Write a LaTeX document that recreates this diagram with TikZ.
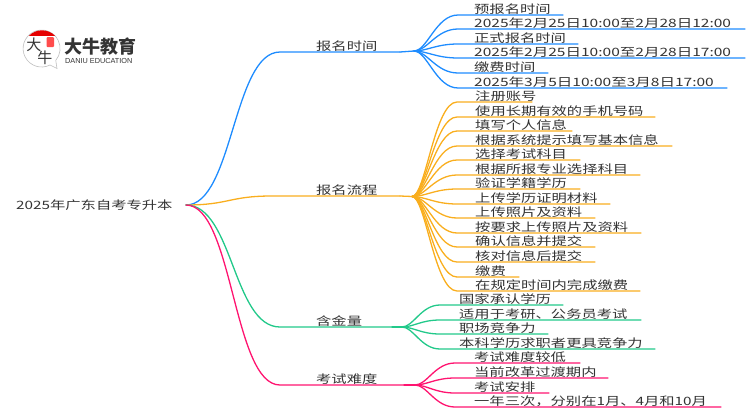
\documentclass[tikz,border=0pt]{standalone}
\usepackage{fontspec}
\usetikzlibrary{calc}
\setmainfont[FakeStretch=1.33]{Noto Sans CJK SC}
\newfontfamily\plainfont{Noto Sans CJK SC}
\newfontfamily\widefont[FakeStretch=1.35]{Noto Sans CJK SC}
\newfontfamily\latinlogo{Liberation Sans}
\definecolor{cblue}{HTML}{1E8CFF}
\definecolor{corange}{HTML}{F9AE1E}
\definecolor{cgreen}{HTML}{22C98A}
\definecolor{cpink}{HTML}{FF1470}
\definecolor{ctext}{HTML}{333333}
\tikzset{
  label text/.style={anchor=base west,inner sep=0pt,text=ctext,font=\fontsize{11.5}{14}\selectfont},
  link/.style={line width=1.3pt,line cap=round},
}
\newcommand{\bendk}{0.5}
% \branch{parent}{name}{flat x}{y}{text x}{end x}{colour}{text}
\newcommand{\branch}[8]{%
  \node[label text] (#2) at (#5,#4-1.5) {#8};
  \coordinate (#2-s) at (#3,#4);
  \coordinate (#2-e) at (#6,#4);
  \draw[link,#7] (#1) .. controls ($(#1)!\bendk!(#1 -| #2-s)$) and ($(#2-s)!0.5!(#2-s -| #1)$) .. (#2-s) -- (#2-e);
}
\begin{document}
\begin{tikzpicture}[x=1pt,y=-1pt]
\useasboundingbox (0,0) rectangle (750,410);
% logo
\fill[white,draw=black!25,line width=0.6pt] (50,65) arc[start angle=63,end angle=400,radius=18.5] -- (57,68.5) -- cycle;
\begin{scope}
\clip (42,48.5) circle (18.2);
\fill[red!90!black] (22,30) rectangle (62,35.5);
\end{scope}
\fill[red!70!white,rounded corners=1pt] (46.5,37) rectangle (54,47);
\node[inner sep=0pt,font=\plainfont\fontsize{15}{15}\selectfont,text=ctext] (logoa) at (34,45) {大};
\node[inner sep=0pt,font=\plainfont\fontsize{15}{15}\selectfont,text=ctext] (logob) at (45,58) {牛};
\node[inner sep=0pt,anchor=west,font=\plainfont\bfseries\fontsize{18}{18}\selectfont,text=ctext] (logoc) at (64.5,47) {大牛教育};
\node[inner sep=0pt,anchor=west,font=\latinlogo\fontsize{7.3}{7}\selectfont,text=ctext] (logod) at (65,60.5) {DANIU EDUCATION};
% root
\node[label text] (root) at (16,209.5) {2025年广东自考专升本};
\coordinate (rootr) at (186,205);
% trunks
\coordinate (hubA) at (414,51);
\coordinate (hubB) at (412,196.5);
\coordinate (hubC) at (402,327);
\coordinate (hubD) at (415,385);
\branch{rootr}{a}{280}{52}{316}{400}{cblue}{报名时间}
\draw[link,cblue] (a-e) -- (hubA);
\branch{rootr}{b}{272}{196}{316}{400}{corange}{报名流程}
\draw[link,corange] (b-e) -- (hubB);
\branch{rootr}{c}{280}{327}{316}{392}{cgreen}{含金量}
\draw[link,cgreen] (c-e) -- (hubC);
\branch{rootr}{d}{280}{385}{316}{404}{cpink}{考试难度}
\draw[link,cpink] (d-e) -- (hubD);
\renewcommand{\bendk}{0.3}
% blue leaves
\branch{hubA}{a1}{458}{15}{474}{563}{cblue}{预报名时间}
\branch{hubA}{a2}{458}{29}{474}{745}{cblue}{\widefont 2025年2月25日10:00至2月28日12:00}
\branch{hubA}{a3}{458}{44}{474}{578}{cblue}{正式报名时间}
\branch{hubA}{a4}{458}{58}{474}{745}{cblue}{\widefont 2025年2月25日10:00至2月28日17:00}
\branch{hubA}{a5}{458}{73}{474}{548}{cblue}{缴费时间}
\branch{hubA}{a6}{458}{88}{474}{727}{cblue}{\widefont 2025年3月5日10:00至3月8日17:00}
% orange leaves
\branch{hubB}{b1}{457}{102}{475}{532}{corange}{注册账号}
\branch{hubB}{b2}{457}{117}{475}{655}{corange}{使用长期有效的手机号码}
\branch{hubB}{b3}{457}{131}{475}{572}{corange}{填写个人信息}
\branch{hubB}{b4}{457}{146}{475}{672}{corange}{根据系统提示填写基本信息}
\branch{hubB}{b5}{457}{160}{475}{580}{corange}{选择考试科目}
\branch{hubB}{b6}{457}{175}{475}{640}{corange}{根据所报专业选择科目}
\branch{hubB}{b7}{457}{189}{475}{580}{corange}{验证学籍学历}
\branch{hubB}{b8}{457}{204}{475}{610}{corange}{上传学历证明材料}
\branch{hubB}{b9}{457}{218}{475}{595}{corange}{上传照片及资料}
\branch{hubB}{b10}{457}{233}{475}{641}{corange}{按要求上传照片及资料}
\branch{hubB}{b11}{457}{247}{475}{595}{corange}{确认信息并提交}
\branch{hubB}{b12}{457}{262}{475}{595}{corange}{核对信息后提交}
\branch{hubB}{b13}{457}{277}{475}{519}{corange}{缴费}
\branch{hubB}{b14}{457}{291}{475}{640}{corange}{在规定时间内完成缴费}
% green leaves
\branch{hubC}{c1}{440}{305}{459}{563}{cgreen}{国家承认学历}
\branch{hubC}{c2}{440}{320}{459}{641}{cgreen}{适用于考研、公务员考试}
\branch{hubC}{c3}{440}{334}{459}{548}{cgreen}{职场竞争力}
\branch{hubC}{c4}{440}{349}{459}{655}{cgreen}{本科学历求职者更具竞争力}
% pink leaves
\branch{hubD}{d1}{455}{363}{474}{580}{cpink}{考试难度较低}
\branch{hubD}{d2}{455}{378}{474}{608}{cpink}{当前改革过渡期内}
\branch{hubD}{d3}{455}{393}{474}{549}{cpink}{考试安排}
\branch{hubD}{d4}{455}{407}{474}{721}{cpink}{一年三次，分别在1月、4月和10月}
\end{tikzpicture}
\end{document}
